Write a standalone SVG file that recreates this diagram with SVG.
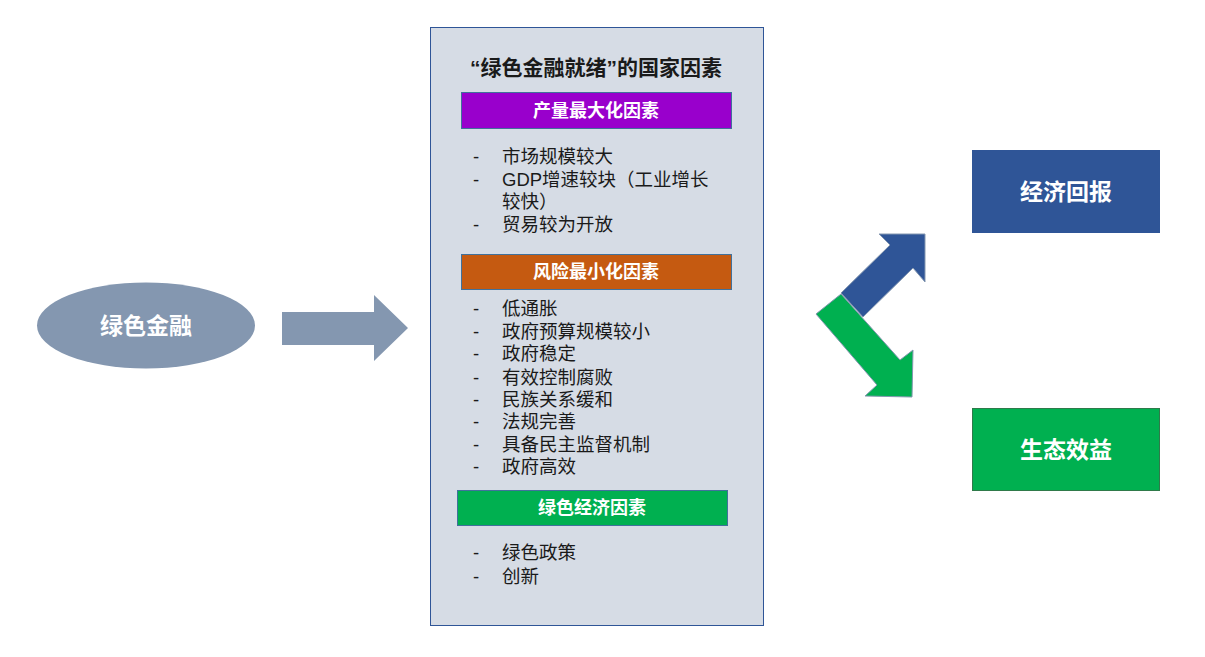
<svg xmlns="http://www.w3.org/2000/svg" width="1205" height="657" viewBox="0 0 1205 657">
<style>
text{font-family:"Liberation Sans","Noto Sans CJK SC",sans-serif}
.h{font-weight:bold;fill:#fff;text-anchor:middle}
.li{font-size:18.5px;fill:#1a1a1a}
.hd{stroke:#41719c;stroke-width:1}
</style>
<rect width="1205" height="657" fill="#fff"/>
<g id="green-finance">
<ellipse cx="146" cy="325.5" rx="109" ry="43" fill="#8497b0"/>
<text class="h" x="146" y="334" font-size="23">绿色金融</text>
</g>
<g id="connectors">
<polygon points="282,312 374,312 374,295 408,328 374,361 374,345 282,345" fill="#8497b0"/>
<polygon points="841,293 890,245 879,234 925,234 925,282 913,268 863,317" fill="#2f5597" stroke="#8497b0" stroke-width="1"/>
<polygon points="816,314 841,294 900,360 913,350 912,397 865,396 877,385" fill="#00b050" stroke="#8497b0" stroke-width="1"/>
</g>
<g id="factors">
<rect x="430.5" y="27.5" width="333" height="598" fill="#d6dce5" stroke="#2f5597" stroke-width="1"/>
<text x="596" y="75" font-size="21" font-weight="bold" fill="#1a1a1a" text-anchor="middle">“绿色金融就绪”的国家因素</text>
<rect class="hd" x="461.5" y="92.5" width="270" height="36" fill="#9900cc"/>
<text class="h" x="596" y="117" font-size="18">产量最大化因素</text>
<g class="li">
<text x="473" y="163">-</text><text x="502" y="163">市场规模较大</text>
<text x="473" y="186">-</text><text x="502" y="186">GDP增速较块（工业增长</text>
<text x="502" y="208">较快）</text>
<text x="473" y="231">-</text><text x="502" y="231">贸易较为开放</text>
</g>
<rect class="hd" x="461.5" y="254.5" width="270" height="35" fill="#c55a11"/>
<text class="h" x="596" y="278" font-size="18">风险最小化因素</text>
<g class="li">
<text x="473" y="315">-</text><text x="502" y="315">低通胀</text>
<text x="473" y="338">-</text><text x="502" y="338">政府预算规模较小</text>
<text x="473" y="360">-</text><text x="502" y="360">政府稳定</text>
<text x="473" y="384">-</text><text x="502" y="384">有效控制腐败</text>
<text x="473" y="406">-</text><text x="502" y="406">民族关系缓和</text>
<text x="473" y="428">-</text><text x="502" y="428">法规完善</text>
<text x="473" y="451">-</text><text x="502" y="451">具备民主监督机制</text>
<text x="473" y="473">-</text><text x="502" y="473">政府高效</text>
</g>
<rect class="hd" x="457.5" y="490.5" width="270" height="35" fill="#00b050"/>
<text class="h" x="592" y="514" font-size="18">绿色经济因素</text>
<g class="li">
<text x="473" y="559">-</text><text x="502" y="559">绿色政策</text>
<text x="473" y="583">-</text><text x="502" y="583">创新</text>
</g>
</g>
<g id="economic-return">
<rect x="972.5" y="150.5" width="187" height="82" fill="#2f5597" stroke="#2f5597"/>
<text class="h" x="1066" y="200" font-size="23">经济回报</text>
</g>
<g id="eco-benefit">
<rect x="972.5" y="408.5" width="187" height="82" fill="#00b050" stroke="#2f7a4a"/>
<text class="h" x="1066" y="458" font-size="23">生态效益</text>
</g>
</svg>
